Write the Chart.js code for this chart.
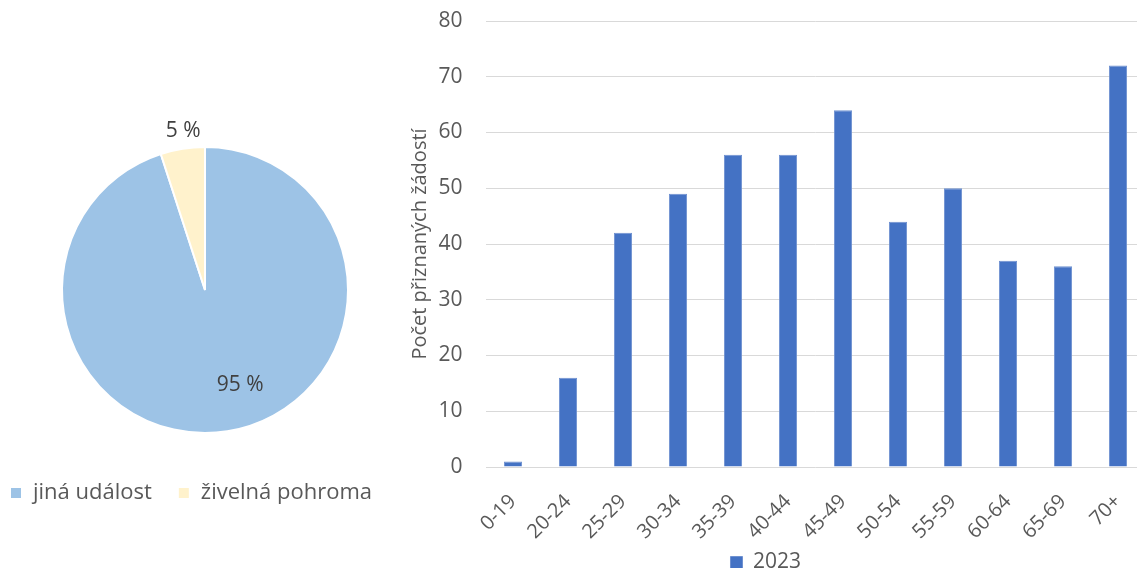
<!DOCTYPE html>
<html>
<head>
<meta charset="utf-8">
<script src="https://cdn.jsdelivr.net/npm/chart.js@4"></script>
<style>
  html, body { margin: 0; padding: 0; background: #fff; overflow: hidden; }
  body { width: 1137px; height: 568px; position: relative; }
  #pieWrap { position: absolute; left: -16px; top: 0; width: 442px; height: 514px; }
  #barWrap { position: absolute; left: 386px; top: 0; width: 814px; height: 583px; }
</style>
</head>
<body>
<div id="pieWrap"><canvas id="pieChart" width="442" height="514"></canvas></div>
<div id="barWrap"><canvas id="barChart" width="814" height="583"></canvas></div>
<script>
// pie: typ události
const pieLabels = ['jiná událost', 'živelná pohroma'];
const pieValues = [95, 5];

// bars: věkové skupiny
const ageGroups = ['0-19', '20-24', '25-29', '30-34', '35-39', '40-44', '45-49', '50-54', '55-59', '60-64', '65-69', '70+'];
const counts2023 = [1, 16, 42, 49, 56, 56, 64, 44, 50, 37, 36, 72];
const yTicks = [0, 10, 20, 30, 40, 50, 60, 70, 80];

const fontFamily = '"Open Sans", "Noto Sans", sans-serif';
const textGray = '#595959';

// where the % labels sit: fraction of radius, angle nudge (rad)
const labelRadius = [0.71, 1.12];
const labelShift = [-0.196, 0.02];

const pieValueLabels = {
    id: 'pieValueLabels',
    afterDatasetsDraw(chart) {
        const ctx = chart.ctx;
        const meta = chart.getDatasetMeta(0);
        ctx.save();
        ctx.font = '21px ' + fontFamily;
        ctx.fillStyle = '#404040';
        ctx.textAlign = 'center';
        ctx.textBaseline = 'middle';
        meta.data.forEach((arc, i) => {
            const p = arc.getProps(['x', 'y', 'startAngle', 'endAngle', 'outerRadius'], true);
            const a = (p.startAngle + p.endAngle) / 2 + labelShift[i];
            const r = p.outerRadius * labelRadius[i];
            ctx.fillText(pieValues[i] + ' %', p.x + Math.cos(a) * r, p.y + Math.sin(a) * r);
        });
        ctx.restore();
    }
};

const pieCtx = document.getElementById('pieChart').getContext('2d');
const pieChart = new Chart(pieCtx, {
    type: 'pie',
    data: {
        labels: pieLabels,
        datasets: [{
            data: pieValues,
            backgroundColor: ['#9DC3E6', '#FFF2CC'],
            borderColor: '#ffffff',
            borderWidth: 2,
            radius: 143
        }]
    },
    options: {
        responsive: false,
        animation: false,
        layout: { padding: { top: 124 } },
        plugins: {
            legend: {
                position: 'bottom',
                align: 'start',
                labels: {
                    boxWidth: 12,
                    boxHeight: 12,
                    padding: 26,
                    color: textGray,
                    font: { family: fontFamily, size: 22 }
                }
            },
            tooltip: { enabled: false }
        }
    },
    plugins: [pieValueLabels]
});

const barCtx = document.getElementById('barChart').getContext('2d');
const barChart = new Chart(barCtx, {
    type: 'bar',
    data: {
        labels: ageGroups,
        datasets: [{
            label: '2023',
            data: counts2023,
            backgroundColor: '#4472C4',
            borderColor: '#6F91D0',
            borderWidth: 1,
            barPercentage: 0.66,
            categoryPercentage: 0.5
        }]
    },
    options: {
        responsive: false,
        animation: false,
        layout: { padding: { top: 21, right: 54.5, bottom: 0 } },
        scales: {
            x: {
                grid: { display: false, drawTicks: false },
                border: { display: false },
                ticks: {
                    color: textGray,
                    font: { family: fontFamily, size: 20 },
                    minRotation: 45,
                    maxRotation: 45,
                    padding: 23
                },
                afterFit(scale) { scale.height = 82; }
            },
            y: {
                min: 0,
                max: 80,
                afterBuildTicks(scale) { scale.ticks = yTicks.map(v => ({ value: v })); },
                grid: { color: '#D9D9D9', lineWidth: 1, drawTicks: true, tickLength: 23, tickColor: 'rgba(0,0,0,0)' },
                border: { display: false },
                ticks: {
                    color: textGray,
                    font: { family: fontFamily, size: 21 },
                    padding: 0
                },
                title: {
                    display: true,
                    text: 'Počet přiznaných žádostí',
                    color: textGray,
                    font: { family: fontFamily, size: 20 },
                    padding: { top: 22, bottom: 4 }
                },
                afterFit(scale) { scale.width = 99.5; }
            }
        },
        plugins: {
            legend: {
                position: 'bottom',
                labels: {
                    boxWidth: 12,
                    boxHeight: 12,
                    padding: 3,
                    color: textGray,
                    font: { family: fontFamily, size: 21 }
                }
            },
            tooltip: { enabled: false }
        }
    }
});
</script>
</body>
</html>
